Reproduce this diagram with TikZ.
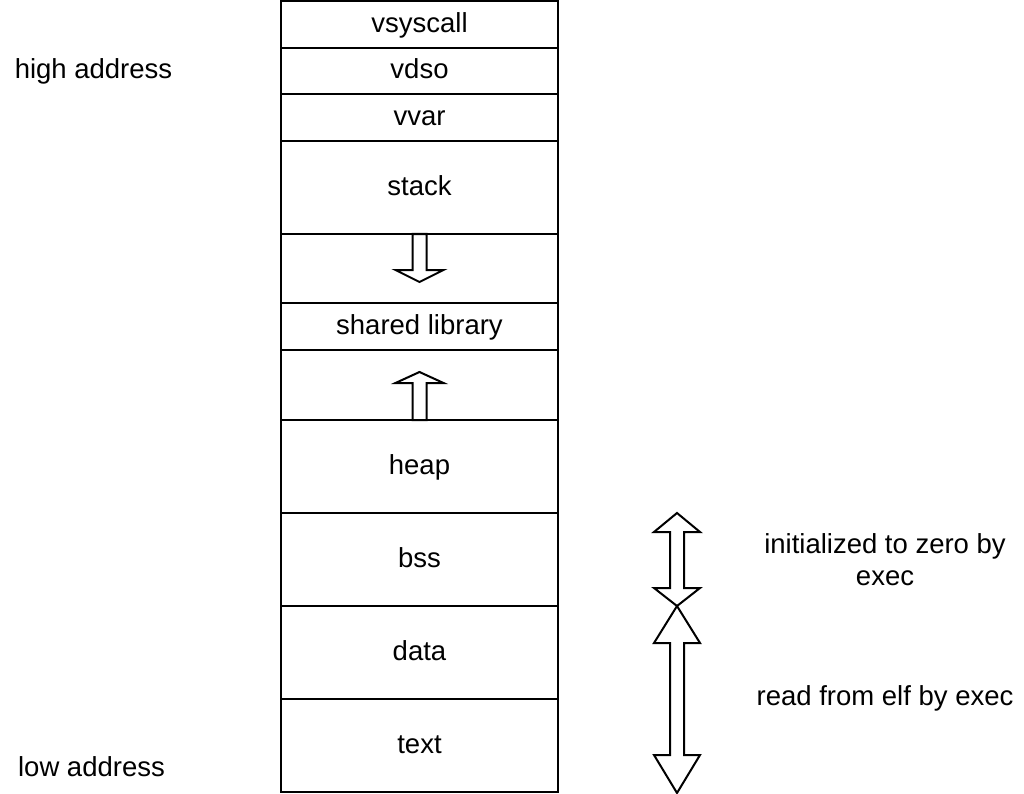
\documentclass[tikz,border=0pt]{standalone}
\usepackage{fontspec}
\setmainfont{Liberation Sans}
\usetikzlibrary{matrix}

\begin{document}
\begin{tikzpicture}[x=1pt,y=-1pt,
    font=\fontsize{27.5}{32}\selectfont,
    seg/.style={draw,line width=2pt,minimum width=277pt,minimum height=47pt,
        outer sep=0pt,inner sep=0pt,text height=15pt,text depth=0pt},
    tall/.style={minimum height=93pt},
    blockarrow/.style={draw,line width=2pt,line join=miter},
    sidetext/.style={anchor=base,inner sep=0pt}]
    \useasboundingbox (0,0) rectangle (1024,794);

    \matrix [%
    matrix of nodes,
    nodes={seg},
    nodes in empty cells,
    row sep=-2pt
    ] (mem) at (419.5,396.5) {%
    vsyscall \\
    |[minimum height=46pt]| vdso \\
    vvar \\
    |[tall]| stack \\
    |[minimum height=69pt]| \\
    shared library \\
    |[minimum height=70pt]| \\
    |[tall]| heap \\
    |[tall]| bss \\
    |[tall]| data \\
    |[tall]| text \\
    };

    \draw[blockarrow] (mem-4-1.south) ++(-7,0) -- ++(0,36) -- ++(-17,0)
        -- ++(24,12) -- ++(24,-12) -- ++(-17,0) -- ++(0,-36) -- cycle;
    \draw[blockarrow] (mem-8-1.north) ++(-7,0) -- ++(0,-37) -- ++(-17,0)
        -- ++(24,-11) -- ++(24,11) -- ++(-17,0) -- ++(0,37) -- cycle;

    \coordinate (rx) at (677,0);
    \draw[blockarrow] (rx |- mem-9-1.north) -- ++(23,19) -- ++(-16,0)
        -- ++(0,56) -- ++(16,0) -- ++(-23,18) -- ++(-23,-18) -- ++(16,0)
        -- ++(0,-56) -- ++(-16,0) -- cycle;
    \draw[blockarrow] (rx |- mem-10-1.north) -- ++(23,37) -- ++(-16,0)
        -- ++(0,112) -- ++(16,0) -- ++(-23,38) -- ++(-23,-38) -- ++(16,0)
        -- ++(0,-112) -- ++(-16,0) -- cycle;

    \node[sidetext] (high) at (93.5,79) {high address};
    \node[sidetext] (low) at (91.5,776) {low address};
    \node[sidetext,align=center] (zero) at (885,585) {initialized to zero by\\exec};
    \node[sidetext] (elf) at (885,705) {read from elf by exec};
\end{tikzpicture}
\end{document}
